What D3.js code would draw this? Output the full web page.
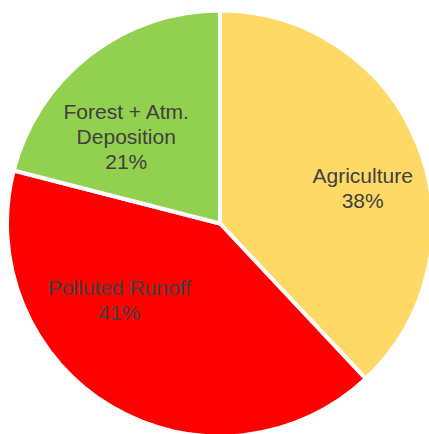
<!DOCTYPE html>
<html>
<head>
<meta charset="utf-8">
<script src="https://d3js.org/d3.v7.min.js"></script>
<style>
  body { margin: 0; background: #fff; }
  svg { display: block; }
</style>
</head>
<body>
<script>
// data
var categories = ["Agriculture", "Polluted Runoff", "Forest + Atm. Deposition"];
var values = [38, 41, 21];
var labelLines = [["Agriculture", "38%"], ["Polluted Runoff", "41%"], ["Forest + Atm.", "Deposition", "21%"]];
var colors = ["#FFD966", "#FF0000", "#92D050"];
// nudges for the label boxes, from arc centroid
var labelNudge = [[8, 18], [-27, -48], [-5, 27]];

var width = 429, height = 434;
var cx = 220, cy = 223.5, radius = 213;
var lineHeight = 25;

var svg = d3.select("body").append("svg")
    .attr("width", width)
    .attr("height", height);

var g = svg.append("g").attr("transform", "translate(" + cx + "," + cy + ")");

var pie = d3.pie().sort(null).value(function(d) { return d; });
var arcs = pie(values);

var arc = d3.arc().innerRadius(0).outerRadius(radius);
var labelArc = d3.arc().innerRadius(radius * 0.68).outerRadius(radius * 0.68);

g.selectAll("path.slice").data(arcs).enter()
    .append("path")
    .attr("class", "slice")
    .attr("d", arc)
    .attr("fill", function(d, i) { return colors[i]; })
    .attr("stroke", "#fff")
    .attr("stroke-width", 4)
    .attr("stroke-linejoin", "round");

var labels = g.selectAll("text.label").data(arcs).enter()
    .append("text")
    .attr("class", "label")
    .attr("text-anchor", "middle")
    .attr("font-family", "Liberation Sans, Arial, sans-serif")
    .attr("font-size", 21)
    .attr("fill", "#404040")
    .attr("transform", function(d, i) {
        var c = labelArc.centroid(d);
        return "translate(" + (c[0] + labelNudge[i][0]) + "," + (c[1] + labelNudge[i][1]) + ")";
    });

labels.each(function(d, i) {
    var lines = labelLines[i];
    var start = -(lines.length - 1) * lineHeight / 2;
    d3.select(this).selectAll("tspan").data(lines).enter()
        .append("tspan")
        .attr("x", 0)
        .attr("y", function(t, j) { return start + j * lineHeight; })
        .attr("dy", "0.36em")
        .text(function(t) { return t; });
});
</script>
</body>
</html>
